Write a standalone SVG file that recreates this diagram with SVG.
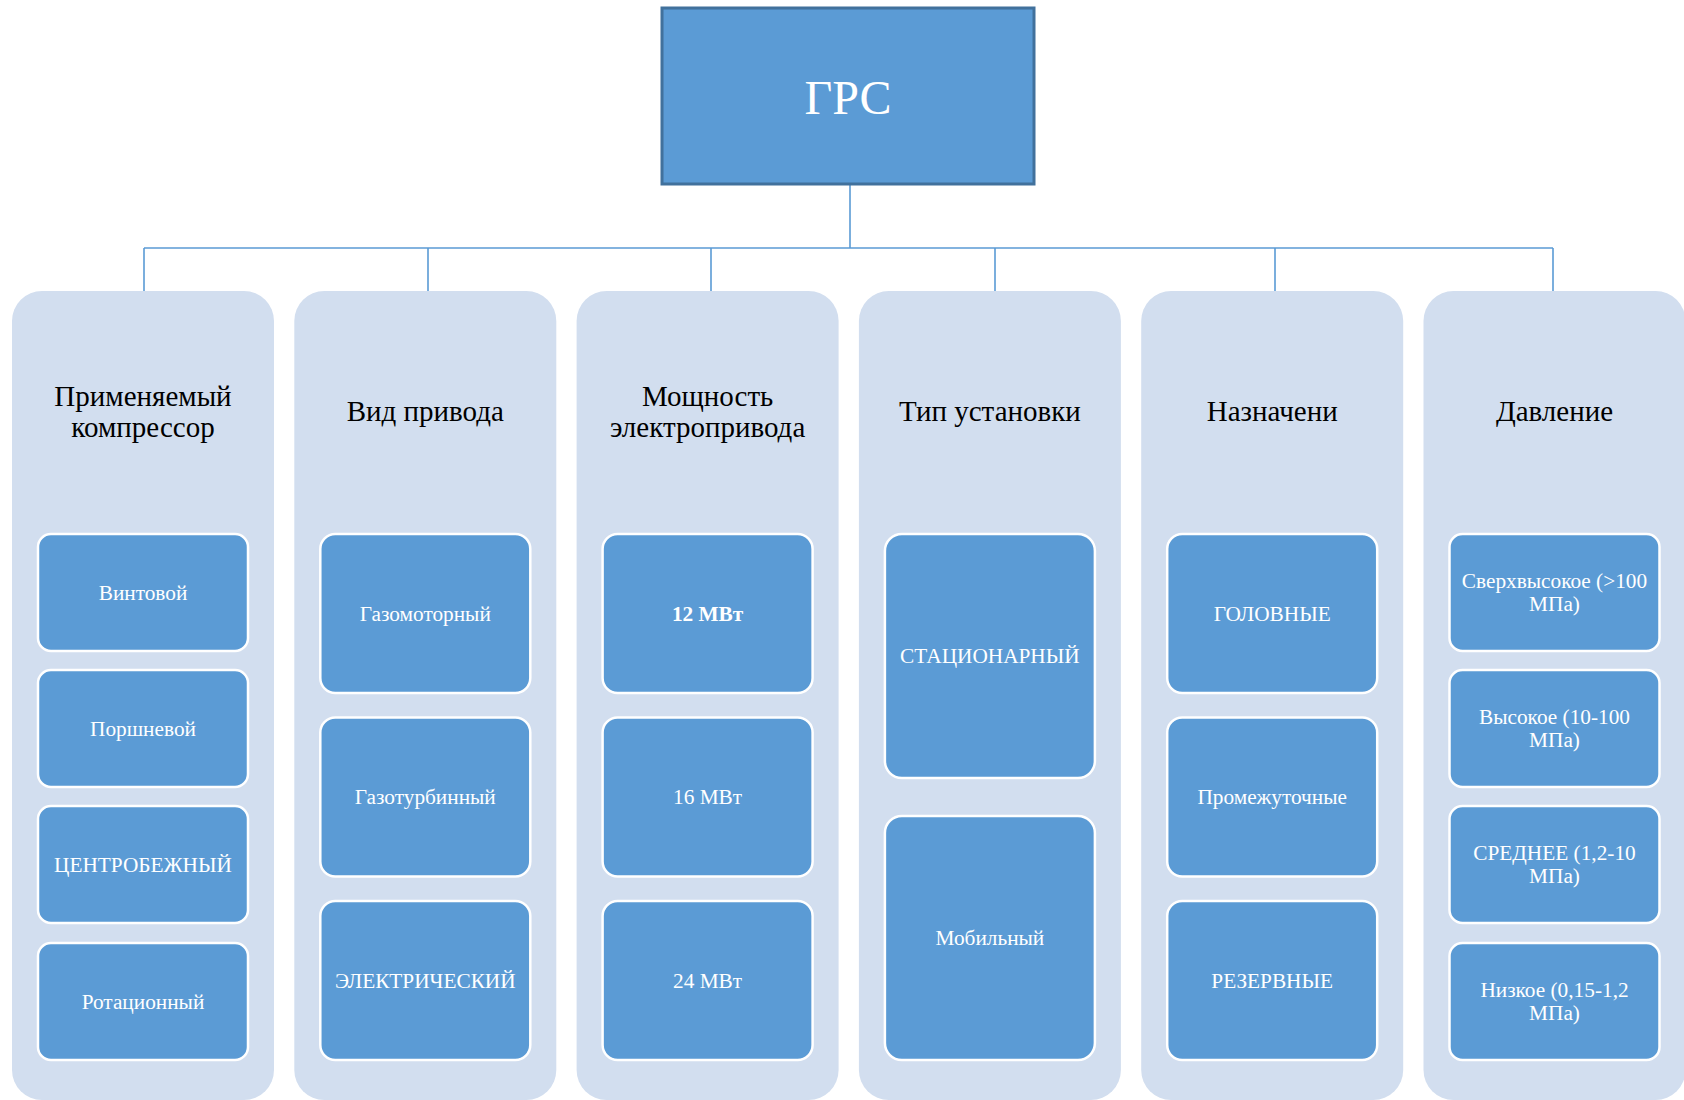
<svg xmlns="http://www.w3.org/2000/svg" width="1684" height="1100" viewBox="0 0 1684 1100">
<style>
.cont{fill:#D2DEEF;}
.box{fill:#5B9BD5;stroke:#FFFFFF;stroke-width:2.5;}
.root{fill:#5B9BD5;stroke:#41719C;stroke-width:3;}
.conn{stroke:#5B9BD5;stroke-width:1.6;fill:none;}
.hd{font-family:"Liberation Serif","Times New Roman",serif;font-size:29px;fill:#000;text-anchor:middle;}
.ct{font-family:"Liberation Serif","Times New Roman",serif;font-size:21.3px;fill:#FFFFFF;text-anchor:middle;}
.rt{font-family:"Liberation Serif","Times New Roman",serif;font-size:48px;fill:#FFFFFF;text-anchor:middle;}
</style>
<rect width="1684" height="1100" fill="#FFFFFF"/>
<g id="connectors">
<path class="conn" d="M850 184 V248 M144 248 H1553 M144 248 V291 M428 248 V291 M711 248 V291 M995 248 V291 M1275 248 V291 M1553 248 V291"/>
</g>
<g id="root">
<rect class="root" x="662" y="8" width="372" height="176"/>
<text class="rt" x="848" y="114">ГРС</text>
</g>
<g id="col1">
<rect class="cont" x="12" y="291" width="262" height="809" rx="30"/>
<text class="hd" x="143" y="406">Применяемый</text>
<text class="hd" x="143" y="437">компрессор</text>
<rect class="box" x="38" y="534" width="210" height="117" rx="13"/>
<text class="ct" x="143" y="599.5">Винтовой</text>
<rect class="box" x="38" y="670" width="210" height="117" rx="13"/>
<text class="ct" x="143" y="735.5">Поршневой</text>
<rect class="box" x="38" y="806" width="210" height="117" rx="13"/>
<text class="ct" x="143" y="871.5">ЦЕНТРОБЕЖНЫЙ</text>
<rect class="box" x="38" y="943" width="210" height="117" rx="13"/>
<text class="ct" x="143" y="1008.5">Ротационный</text>
</g>
<g id="col2">
<rect class="cont" x="294.3" y="291" width="262" height="809" rx="30"/>
<text class="hd" x="425.3" y="420.5">Вид привода</text>
<rect class="box" x="320.3" y="534" width="210" height="159" rx="15"/>
<text class="ct" x="425.3" y="620.5">Газомоторный</text>
<rect class="box" x="320.3" y="717.5" width="210" height="159" rx="15"/>
<text class="ct" x="425.3" y="804">Газотурбинный</text>
<rect class="box" x="320.3" y="901" width="210" height="159" rx="15"/>
<text class="ct" x="425.3" y="987.5">ЭЛЕКТРИЧЕСКИЙ</text>
</g>
<g id="col3">
<rect class="cont" x="576.6" y="291" width="262" height="809" rx="30"/>
<text class="hd" x="707.6" y="406">Мощность</text>
<text class="hd" x="707.6" y="437">электропривода</text>
<rect class="box" x="602.6" y="534" width="210" height="159" rx="15"/>
<text class="ct" x="707.6" y="620.5" font-weight="bold">12 МВт</text>
<rect class="box" x="602.6" y="717.5" width="210" height="159" rx="15"/>
<text class="ct" x="707.6" y="804">16 МВт</text>
<rect class="box" x="602.6" y="901" width="210" height="159" rx="15"/>
<text class="ct" x="707.6" y="987.5">24 МВт</text>
</g>
<g id="col4">
<rect class="cont" x="858.9" y="291" width="262" height="809" rx="30"/>
<text class="hd" x="989.9" y="420.5">Тип установки</text>
<rect class="box" x="884.9" y="534" width="210" height="244" rx="17"/>
<text class="ct" x="989.9" y="663">СТАЦИОНАРНЫЙ</text>
<rect class="box" x="884.9" y="816" width="210" height="244" rx="17"/>
<text class="ct" x="989.9" y="945">Мобильный</text>
</g>
<g id="col5">
<rect class="cont" x="1141.2" y="291" width="262" height="809" rx="30"/>
<text class="hd" x="1272.2" y="420.5">Назначени</text>
<rect class="box" x="1167.2" y="534" width="210" height="159" rx="15"/>
<text class="ct" x="1272.2" y="620.5">ГОЛОВНЫЕ</text>
<rect class="box" x="1167.2" y="717.5" width="210" height="159" rx="15"/>
<text class="ct" x="1272.2" y="804">Промежуточные</text>
<rect class="box" x="1167.2" y="901" width="210" height="159" rx="15"/>
<text class="ct" x="1272.2" y="987.5">РЕЗЕРВНЫЕ</text>
</g>
<g id="col6">
<rect class="cont" x="1423.5" y="291" width="262" height="809" rx="30"/>
<text class="hd" x="1554.5" y="420.5">Давление</text>
<rect class="box" x="1449.5" y="534" width="210" height="117" rx="13"/>
<text class="ct" x="1554.5" y="588">Сверхвысокое (&gt;100</text>
<text class="ct" x="1554.5" y="610.5">МПа)</text>
<rect class="box" x="1449.5" y="670" width="210" height="117" rx="13"/>
<text class="ct" x="1554.5" y="724">Высокое (10-100</text>
<text class="ct" x="1554.5" y="746.5">МПа)</text>
<rect class="box" x="1449.5" y="806" width="210" height="117" rx="13"/>
<text class="ct" x="1554.5" y="860">СРЕДНЕЕ (1,2-10</text>
<text class="ct" x="1554.5" y="882.5">МПа)</text>
<rect class="box" x="1449.5" y="943" width="210" height="117" rx="13"/>
<text class="ct" x="1554.5" y="997">Низкое (0,15-1,2</text>
<text class="ct" x="1554.5" y="1019.5">МПа)</text>
</g>
</svg>
